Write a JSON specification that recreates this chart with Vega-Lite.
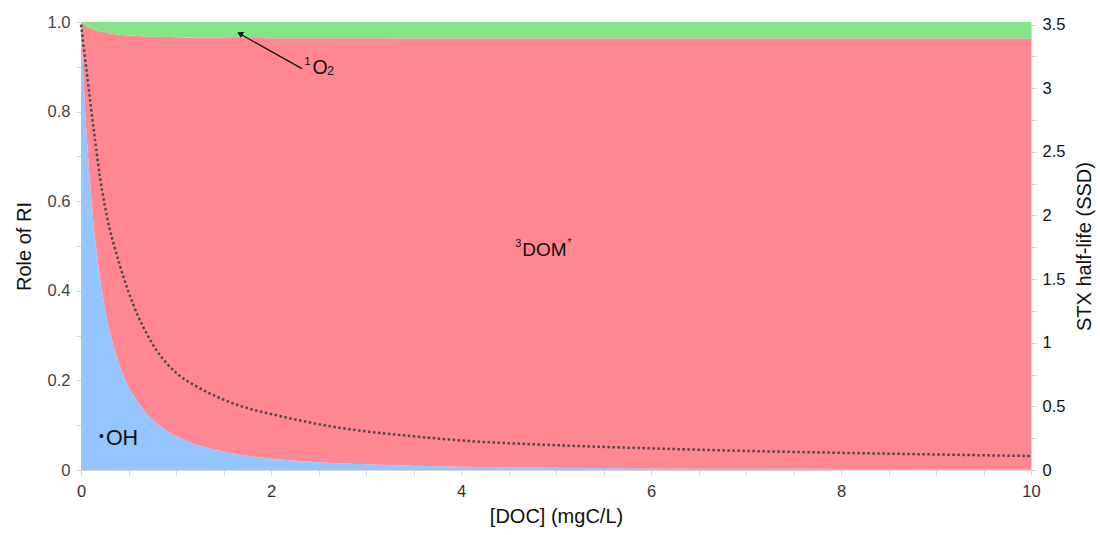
{
  "$schema": "https://vega.github.io/schema/vega-lite/v6.json",
  "width": 950,
  "height": 448,
  "autosize": {"type": "none"},
  "padding": {"left": 81, "top": 22, "right": 69, "bottom": 65},
  "background": "white",
  "config": {
    "view": {"stroke": null},
    "font": "Liberation Sans",
    "axis": {
      "labelFont": "Liberation Sans",
      "titleFont": "Liberation Sans",
      "labelFontSize": 16.5,
      "titleFontSize": 20,
      "titleFontWeight": "normal",
      "titleColor": "#111",
      "labelColor": "#333",
      "domainColor": "#d6d6d6",
      "tickColor": "#d6d6d6",
      "tickSize": 5,
      "grid": false,
      "labelOverlap": false,
      "labelFlush": false
    }
  },
  "layer": [
    {
      "layer": [
        {
          "data": {
            "values": [
              {"doc": 0, "1_OH": 1.0, "2_3DOM": 0.0, "3_1O2": 0.0},
              {"doc": 0.025, "1_OH": 0.8804, "2_3DOM": 0.1152, "3_1O2": 0.0044},
              {"doc": 0.05, "1_OH": 0.7811, "2_3DOM": 0.2108, "3_1O2": 0.0081},
              {"doc": 0.075, "1_OH": 0.6976, "2_3DOM": 0.2912, "3_1O2": 0.0112},
              {"doc": 0.1, "1_OH": 0.6269, "2_3DOM": 0.3593, "3_1O2": 0.0138},
              {"doc": 0.15, "1_OH": 0.5142, "2_3DOM": 0.4678, "3_1O2": 0.018},
              {"doc": 0.2, "1_OH": 0.4294, "2_3DOM": 0.5495, "3_1O2": 0.0211},
              {"doc": 0.25, "1_OH": 0.364, "2_3DOM": 0.6125, "3_1O2": 0.0235},
              {"doc": 0.3, "1_OH": 0.3125, "2_3DOM": 0.6621, "3_1O2": 0.0254},
              {"doc": 0.4, "1_OH": 0.2375, "2_3DOM": 0.7343, "3_1O2": 0.0282},
              {"doc": 0.5, "1_OH": 0.1866, "2_3DOM": 0.7833, "3_1O2": 0.0301},
              {"doc": 0.6, "1_OH": 0.1505, "2_3DOM": 0.8181, "3_1O2": 0.0314},
              {"doc": 0.7, "1_OH": 0.1239, "2_3DOM": 0.8437, "3_1O2": 0.0324},
              {"doc": 0.8, "1_OH": 0.1038, "2_3DOM": 0.863, "3_1O2": 0.0332},
              {"doc": 0.9, "1_OH": 0.0882, "2_3DOM": 0.8781, "3_1O2": 0.0337},
              {"doc": 1.0, "1_OH": 0.0759, "2_3DOM": 0.8899, "3_1O2": 0.0342},
              {"doc": 1.2, "1_OH": 0.0579, "2_3DOM": 0.9072, "3_1O2": 0.0349},
              {"doc": 1.4, "1_OH": 0.0456, "2_3DOM": 0.9191, "3_1O2": 0.0353},
              {"doc": 1.6, "1_OH": 0.0369, "2_3DOM": 0.9275, "3_1O2": 0.0356},
              {"doc": 1.8, "1_OH": 0.0304, "2_3DOM": 0.9337, "3_1O2": 0.0359},
              {"doc": 2.0, "1_OH": 0.0255, "2_3DOM": 0.9384, "3_1O2": 0.0361},
              {"doc": 2.5, "1_OH": 0.0174, "2_3DOM": 0.9462, "3_1O2": 0.0364},
              {"doc": 3.0, "1_OH": 0.0127, "2_3DOM": 0.9508, "3_1O2": 0.0365},
              {"doc": 3.5, "1_OH": 0.0096, "2_3DOM": 0.9538, "3_1O2": 0.0366},
              {"doc": 4.0, "1_OH": 0.0075, "2_3DOM": 0.9558, "3_1O2": 0.0367},
              {"doc": 5.0, "1_OH": 0.005, "2_3DOM": 0.9582, "3_1O2": 0.0368},
              {"doc": 6.0, "1_OH": 0.0036, "2_3DOM": 0.9595, "3_1O2": 0.0369},
              {"doc": 7.0, "1_OH": 0.0027, "2_3DOM": 0.9604, "3_1O2": 0.0369},
              {"doc": 8.0, "1_OH": 0.0021, "2_3DOM": 0.961, "3_1O2": 0.0369},
              {"doc": 9.0, "1_OH": 0.0016, "2_3DOM": 0.9615, "3_1O2": 0.0369},
              {"doc": 10.0, "1_OH": 0.0013, "2_3DOM": 0.9617, "3_1O2": 0.037}
            ]
          },
          "transform": [{"fold": ["1_OH", "2_3DOM", "3_1O2"], "as": ["species", "frac"]}],
          "mark": {"type": "area", "interpolate": "monotone"},
          "encoding": {
            "x": {
              "field": "doc",
              "type": "quantitative",
              "scale": {"domain": [0, 10], "nice": false, "zero": false},
              "axis": {
                "title": "[DOC] (mgC/L)",
                "values": [0, 0.5, 1, 1.5, 2, 2.5, 3, 3.5, 4, 4.5, 5, 5.5, 6, 6.5, 7, 7.5, 8, 8.5, 9, 9.5, 10],
                "labelExpr": "datum.value % 2 == 0 ? format(datum.value, '~g') : ''",
                "labelPadding": 8,
                "titlePadding": 7
              }
            },
            "y": {
              "field": "frac",
              "type": "quantitative",
              "stack": "zero",
              "scale": {"domain": [0, 1], "nice": false},
              "axis": {
                "orient": "left",
                "title": "Role of RI",
                "values": [0, 0.05, 0.1, 0.15, 0.2, 0.25, 0.3, 0.35, 0.4, 0.45, 0.5, 0.55, 0.6, 0.65, 0.7, 0.75, 0.8, 0.85, 0.9, 0.95, 1.0],
                "labelExpr": "abs(datum.value * 5 - round(datum.value * 5)) < 0.001 ? (datum.value == 0 ? '0' : format(datum.value, '.1f')) : ''",
                "labelPadding": 6,
                "titlePadding": 13,
                "labelColor": "#444"
              }
            },
            "color": {
              "field": "species",
              "type": "nominal",
              "scale": {"domain": ["1_OH", "2_3DOM", "3_1O2"], "range": ["#95c5ff", "#ff8792", "#85e388"]},
              "legend": null
            },
            "order": {"field": "species", "sort": "ascending"}
          }
        },
        {
          "data": {"values": [{"doc": 2.326, "frac": 0.896, "doc2": 1.66, "frac2": 0.975}]},
          "mark": {"type": "rule", "color": "#111", "strokeWidth": 1.3},
          "encoding": {
            "x": {"field": "doc", "type": "quantitative"},
            "y": {"field": "frac", "type": "quantitative"},
            "x2": {"field": "doc2"},
            "y2": {"field": "frac2"}
          }
        },
        {
          "data": {"values": [{"doc": 1.673, "frac": 0.974}]},
          "mark": {"type": "point", "shape": "triangle-up", "filled": true, "color": "#111", "size": 45, "angle": 299, "opacity": 1},
          "encoding": {
            "x": {"field": "doc", "type": "quantitative"},
            "y": {"field": "frac", "type": "quantitative"}
          }
        },
        {
          "data": {"values": [{"doc": 2.351, "frac": 0.9034, "label": "1"}]},
          "mark": {"type": "text", "align": "left", "baseline": "alphabetic", "fontSize": 11.5, "font": "Liberation Sans", "color": "#111"},
          "encoding": {
            "x": {"field": "doc", "type": "quantitative"},
            "y": {"field": "frac", "type": "quantitative"},
            "text": {"field": "label"}
          }
        },
        {
          "data": {"values": [{"doc": 2.436, "frac": 0.8833, "label": "O"}]},
          "mark": {"type": "text", "align": "left", "baseline": "alphabetic", "fontSize": 19.5, "font": "Liberation Sans", "color": "#111"},
          "encoding": {
            "x": {"field": "doc", "type": "quantitative"},
            "y": {"field": "frac", "type": "quantitative"},
            "text": {"field": "label"}
          }
        },
        {
          "data": {"values": [{"doc": 2.59, "frac": 0.8808, "label": "2"}]},
          "mark": {"type": "text", "align": "left", "baseline": "alphabetic", "fontSize": 12.5, "font": "Liberation Sans", "color": "#111"},
          "encoding": {
            "x": {"field": "doc", "type": "quantitative"},
            "y": {"field": "frac", "type": "quantitative"},
            "text": {"field": "label"}
          }
        },
        {
          "data": {"values": [{"doc": 4.571, "frac": 0.498, "label": "3"}]},
          "mark": {"type": "text", "align": "left", "baseline": "alphabetic", "fontSize": 11, "font": "Liberation Sans", "color": "#111"},
          "encoding": {
            "x": {"field": "doc", "type": "quantitative"},
            "y": {"field": "frac", "type": "quantitative"},
            "text": {"field": "label"}
          }
        },
        {
          "data": {"values": [{"doc": 4.646, "frac": 0.4774, "label": "DOM"}]},
          "mark": {"type": "text", "align": "left", "baseline": "alphabetic", "fontSize": 19, "font": "Liberation Sans", "color": "#111"},
          "encoding": {
            "x": {"field": "doc", "type": "quantitative"},
            "y": {"field": "frac", "type": "quantitative"},
            "text": {"field": "label"}
          }
        },
        {
          "data": {"values": [{"doc": 5.12, "frac": 0.4997, "label": "*"}]},
          "mark": {"type": "text", "align": "left", "baseline": "alphabetic", "fontSize": 10, "font": "Liberation Sans", "color": "#111"},
          "encoding": {
            "x": {"field": "doc", "type": "quantitative"},
            "y": {"field": "frac", "type": "quantitative"},
            "text": {"field": "label"}
          }
        },
        {
          "data": {"values": [{"doc": 0.214, "frac": 0.0736, "label": "•"}]},
          "mark": {"type": "text", "align": "center", "baseline": "middle", "fontSize": 14, "font": "Liberation Sans", "color": "#111"},
          "encoding": {
            "x": {"field": "doc", "type": "quantitative"},
            "y": {"field": "frac", "type": "quantitative"},
            "text": {"field": "label"}
          }
        },
        {
          "data": {"values": [{"doc": 0.262, "frac": 0.0558, "label": "OH"}]},
          "mark": {"type": "text", "align": "left", "baseline": "alphabetic", "fontSize": 21.5, "font": "Liberation Sans", "color": "#111"},
          "encoding": {
            "x": {"field": "doc", "type": "quantitative"},
            "y": {"field": "frac", "type": "quantitative"},
            "text": {"field": "label"}
          }
        }
      ]
    },
    {
      "data": {
        "values": [
          {"doc": 0, "halflife": 3.5},
          {"doc": 0.05, "halflife": 3.19},
          {"doc": 0.1, "halflife": 2.88},
          {"doc": 0.15, "halflife": 2.58},
          {"doc": 0.2, "halflife": 2.3},
          {"doc": 0.25, "halflife": 2.08},
          {"doc": 0.3, "halflife": 1.9},
          {"doc": 0.35, "halflife": 1.76},
          {"doc": 0.4, "halflife": 1.63},
          {"doc": 0.5, "halflife": 1.4},
          {"doc": 0.6, "halflife": 1.21},
          {"doc": 0.7, "halflife": 1.06},
          {"doc": 0.8, "halflife": 0.935},
          {"doc": 0.9, "halflife": 0.84},
          {"doc": 1.0, "halflife": 0.765},
          {"doc": 1.24, "halflife": 0.647},
          {"doc": 1.5, "halflife": 0.553},
          {"doc": 1.78, "halflife": 0.48},
          {"doc": 2.0, "halflife": 0.44},
          {"doc": 2.5, "halflife": 0.36},
          {"doc": 2.83, "halflife": 0.32},
          {"doc": 3.5, "halflife": 0.265},
          {"doc": 4.0, "halflife": 0.232},
          {"doc": 5.0, "halflife": 0.195},
          {"doc": 6.0, "halflife": 0.17},
          {"doc": 7.0, "halflife": 0.15},
          {"doc": 8.0, "halflife": 0.135},
          {"doc": 9.0, "halflife": 0.122},
          {"doc": 10.0, "halflife": 0.11}
        ]
      },
      "mark": {"type": "line", "interpolate": "monotone", "color": "#4a4a4a", "strokeWidth": 2.5, "strokeDash": [2.5, 2.5], "strokeCap": "butt"},
      "encoding": {
        "x": {"field": "doc", "type": "quantitative"},
        "y": {
          "field": "halflife",
          "type": "quantitative",
          "scale": {"domain": [0, 3.52], "nice": false},
          "axis": {
            "orient": "right",
            "title": "STX half-life (SSD)",
            "titleAngle": 270,
            "titleBaseline": "top",
            "values": [0, 0.25, 0.5, 0.75, 1, 1.25, 1.5, 1.75, 2, 2.25, 2.5, 2.75, 3, 3.25, 3.5],
            "labelExpr": "datum.value % 0.5 == 0 ? format(datum.value, '~g') : ''",
            "labelPadding": 6,
            "labelColor": "#111",
            "titlePadding": 10
          }
        }
      }
    }
  ],
  "resolve": {"scale": {"y": "independent"}}
}
